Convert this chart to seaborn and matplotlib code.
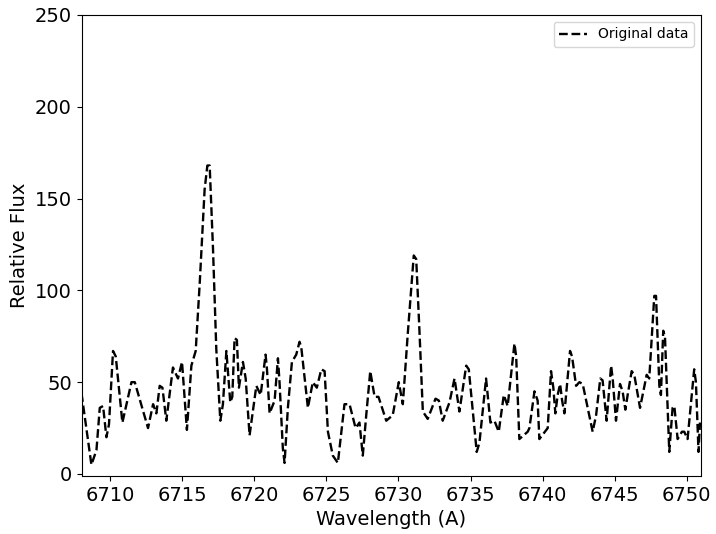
import numpy as np
import pandas as pd
import matplotlib
matplotlib.use("Agg")
import matplotlib.pyplot as plt
import seaborn as sns

# wavelength (A) and flux
wavelength = [6707.99, 6708.68, 6709.03, 6709.26, 6709.49, 6709.72, 6709.90, 6710.18, 6710.37, 6710.83,
              6711.46, 6711.69, 6712.61, 6712.96, 6713.19, 6713.42, 6713.61, 6713.88, 6714.34, 6714.69,
              6714.97, 6715.31, 6715.62, 6715.92, 6716.20, 6716.54, 6716.73, 6716.89, 6717.12, 6717.35,
              6717.63, 6717.81, 6718.05, 6718.32, 6718.46, 6718.62, 6718.78, 6718.92, 6719.20, 6719.39,
              6719.66, 6720.13, 6720.43, 6720.77, 6720.86, 6721.05, 6721.40, 6721.63, 6721.74, 6721.97,
              6722.09, 6722.32, 6722.60, 6722.90, 6723.13, 6723.25, 6723.71, 6724.05, 6724.33, 6724.64,
              6724.87, 6725.10, 6725.44, 6725.79, 6726.25, 6726.60, 6727.02, 6727.29, 6727.52, 6727.76,
              6728.04, 6728.34, 6728.61, 6729.15, 6729.60, 6730.02, 6730.30, 6730.65, 6731.06, 6731.23,
              6731.46, 6731.69, 6732.03, 6732.57, 6732.80, 6733.07, 6733.54, 6733.89, 6734.23, 6734.70,
              6734.88, 6735.43, 6735.62, 6736.08, 6736.38, 6736.66, 6736.96, 6737.31, 6737.58, 6738.05,
              6738.17, 6738.39, 6738.97, 6739.09, 6739.44, 6739.66, 6739.78, 6740.36, 6740.59, 6740.75,
              6740.89, 6741.05, 6741.22, 6741.36, 6741.52, 6741.91, 6742.05, 6742.33, 6742.56, 6742.79,
              6743.48, 6743.72, 6744.01, 6744.17, 6744.45, 6744.76, 6744.87, 6745.10, 6745.38, 6745.56,
              6745.75, 6745.91, 6746.19, 6746.37, 6746.77, 6747.23, 6747.41, 6747.76, 6747.88, 6748.11,
              6748.22, 6748.38, 6748.50, 6748.80, 6749.03, 6749.15, 6749.38, 6749.68, 6749.84, 6750.07,
              6750.53, 6750.65, 6750.83, 6750.93]
flux = [44, 5, 13, 36, 37, 20, 27, 67, 64, 28,
        50, 50, 25, 38, 33, 48, 47, 29, 58, 52,
        61, 24, 59, 67, 104, 155, 168, 168, 123, 68,
        29, 38, 67, 39, 42, 74, 73, 47, 61, 52,
        21, 48, 43, 65, 58, 33, 40, 63, 50, 14,
        6, 36, 61, 65, 72, 69, 36, 50, 47, 57,
        56, 23, 10, 6, 38, 38, 25, 28, 10, 32,
        56, 42, 42, 29, 32, 50, 38, 77, 119, 117,
        77, 34, 30, 41, 40, 29, 39, 52, 34, 59,
        57, 12, 17, 52, 28, 29, 23, 43, 37, 71,
        64, 19, 23, 25, 45, 40, 19, 25, 56, 47,
        33, 43, 49, 40, 33, 67, 64, 48, 50, 49,
        23, 32, 52, 51, 29, 59, 52, 29, 49, 45,
        35, 43, 56, 54, 36, 54, 52, 97, 97, 48,
        43, 78, 75, 12, 36, 37, 19, 23, 23, 19,
        57, 50, 12, 28]

df = pd.DataFrame({'wavelength': wavelength, 'flux': flux})

fig, ax = plt.subplots(figsize=(7.16, 5.34), dpi=100)
fig.subplots_adjust(left=0.114, right=0.979, top=0.972, bottom=0.109)

sns.lineplot(data=df, x='wavelength', y='flux', ax=ax, sort=False, color='black',
             linestyle='--', linewidth=1.7, label='Original data')

ax.set_xlim(6708, 6751)
ax.set_ylim(-1, 250)
ax.set_xticks(np.arange(6710, 6751, 5))
ax.set_yticks(np.arange(0, 251, 50))
ax.tick_params(labelsize=14)
ax.set_xlabel('Wavelength (A)', fontsize=14)
ax.set_ylabel('Relative Flux', fontsize=14)
ax.legend(loc='upper right', fontsize=10)

plt.savefig('out.png', dpi=100)
